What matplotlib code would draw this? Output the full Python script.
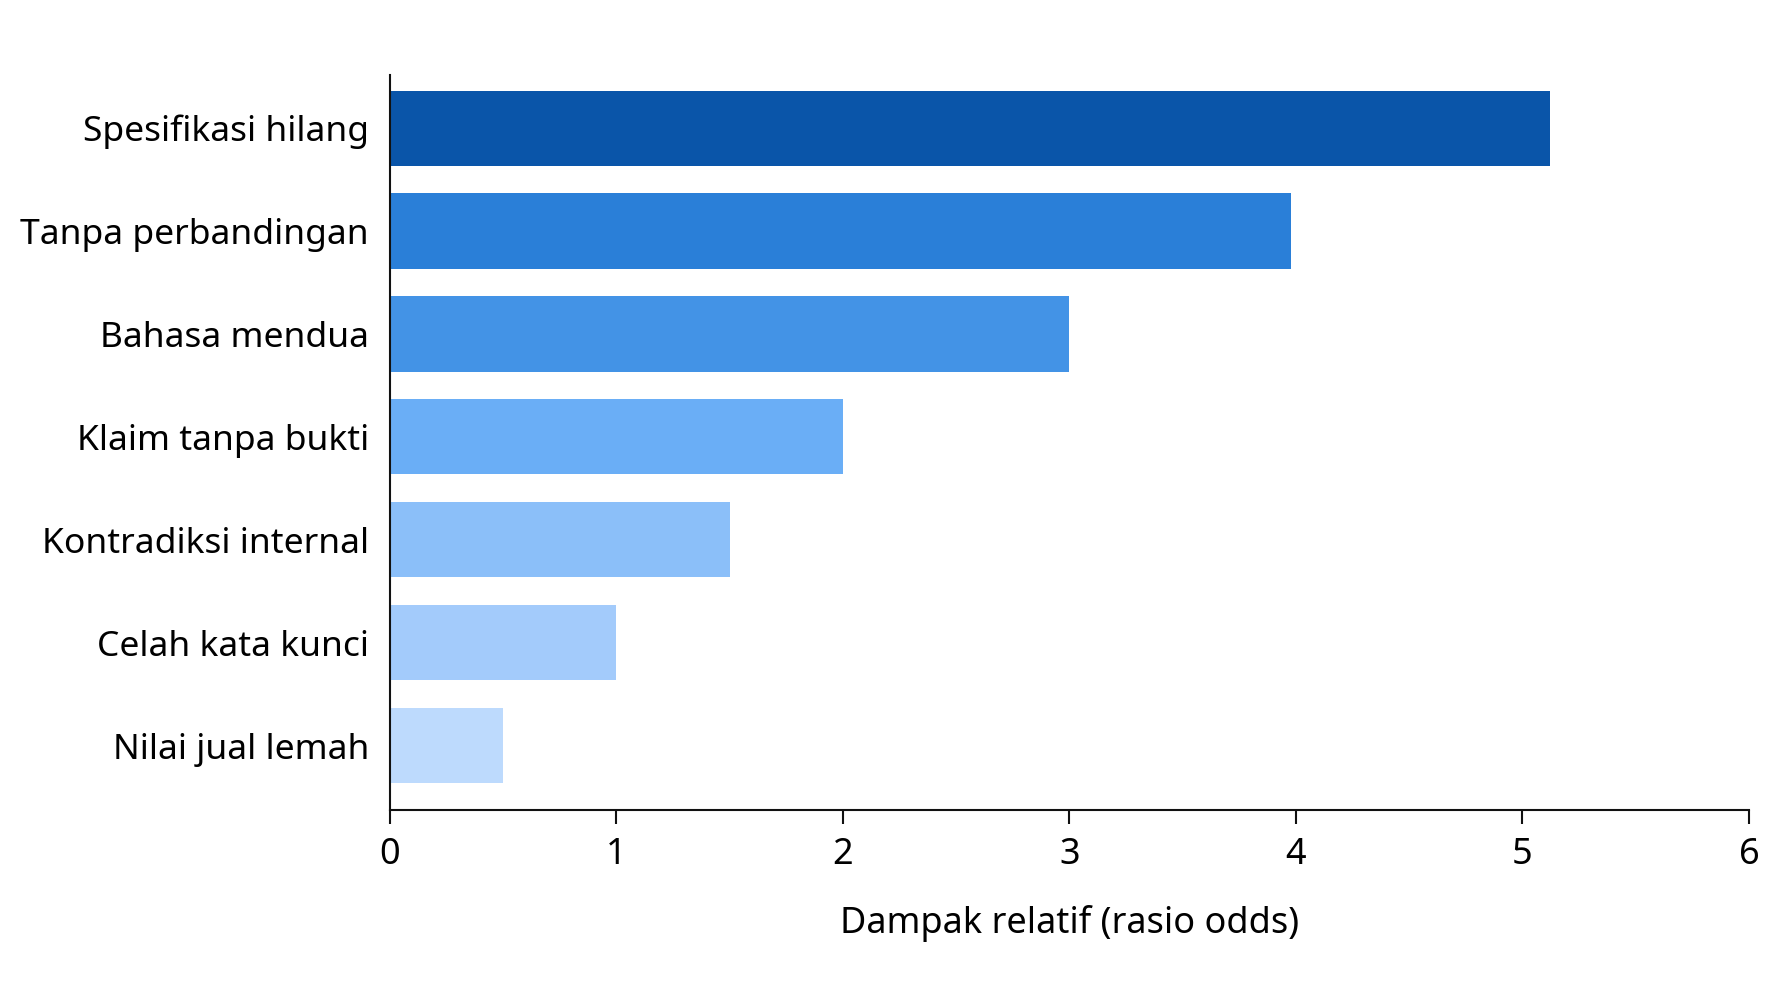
import matplotlib

matplotlib.use("Agg")
import matplotlib.pyplot as plt
import numpy as np

categories = [
    "Spesifikasi hilang",
    "Tanpa perbandingan",
    "Bahasa mendua",
    "Klaim tanpa bukti",
    "Kontradiksi internal",
    "Celah kata kunci",
    "Nilai jual lemah",
]
odds_ratio = [5.12, 3.98, 3.0, 2.0, 1.5, 1.0, 0.5]
colors = ["#0a55a9", "#2a7fd8", "#4393e6", "#6aaef6", "#8bbff9", "#a3cbfb", "#bddafd"]
xticks = [0, 1, 2, 3, 4, 5, 6]

plt.rcParams["font.family"] = ["Noto Sans", "DejaVu Sans"]

fig = plt.figure(figsize=(17.92, 10.08), dpi=100, facecolor="white")
ax = fig.add_axes([0.2175, 0.196, 0.7585, 0.730])

y = np.arange(len(categories))
ax.barh(y, odds_ratio, height=0.73, color=colors, zorder=2)

ax.set_yticks(y)
ax.set_yticklabels(categories, fontsize=25.5)
ax.set_ylim(6.63, -0.52)
ax.set_xlim(0, 6)
ax.set_xticks(xticks)
ax.set_xticklabels([str(t) for t in xticks], fontsize=26)
ax.set_xlabel("Dampak relatif (rasio odds)", fontsize=26, labelpad=23)

for side in ("top", "right"):
    ax.spines[side].set_visible(False)
for side in ("left", "bottom"):
    ax.spines[side].set_linewidth(1.5)
    ax.spines[side].set_color("#111111")

ax.tick_params(axis="y", length=0, pad=15)
ax.tick_params(axis="x", length=10, width=1.5, pad=9, color="#111111")

fig.savefig("out.png", dpi=100, facecolor="white")
